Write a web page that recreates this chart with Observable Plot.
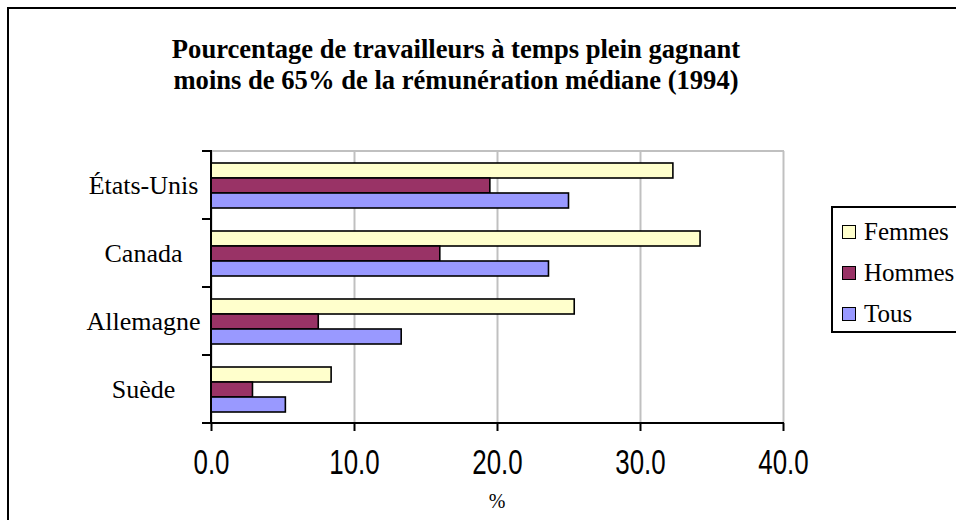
<!DOCTYPE html>
<html><head><meta charset="utf-8">
<script src="https://cdn.jsdelivr.net/npm/d3@7"></script>
<script src="https://cdn.jsdelivr.net/npm/@observablehq/plot@0.6"></script>
<style>
body{margin:0;background:#fff;overflow:hidden}
#wrap{position:relative;width:956px;height:520px;overflow:hidden;background:#fff;font-family:'Liberation Serif','Times New Roman',Times,serif;color:#000}
#border{position:absolute;left:7px;top:7px;width:1000px;height:600px;border:2px solid #000;box-sizing:border-box}
#chart{position:absolute;left:0;top:0}
#title{position:absolute;left:0;width:912px;top:34px;text-align:center;font-family:'Liberation Serif','Times New Roman',Times,serif;font-weight:bold;font-size:26.6px;line-height:31px}
#legend{position:absolute;left:831px;top:206px;width:200px;height:127px;border:2px solid #000;box-sizing:border-box;background:#fff}
.item{position:absolute;left:9px;height:30px;display:flex;align-items:center;font-family:'Liberation Serif','Times New Roman',Times,serif;font-size:25px;white-space:nowrap}
.sw{width:12px;height:12px;border:1.5px solid #000;margin-right:8px;flex:none}
#xlabel{position:absolute;left:447px;width:100px;top:490px;text-align:center;font-family:'Liberation Serif','Times New Roman',Times,serif;font-size:20px}
</style></head>
<body><div id="wrap"><div id="border"></div><div id="chart"></div>
<div id="title">Pourcentage de travailleurs à temps plein gagnant<br>moins de 65% de la rémunération médiane (1994)</div>
<div id="legend"></div><div id="xlabel">%</div></div>
<script>
const countries = ["États-Unis", "Canada", "Allemagne", "Suède"];
const series = ["Femmes", "Hommes", "Tous"];
const femmes = [32.3, 34.2, 25.4, 8.4];
const hommes = [19.5, 16.0, 7.5, 2.9];
const tous = [25.0, 23.6, 13.3, 5.2];
const colors = ["#FFFFCC", "#993366", "#9999FF"];
const xTicks = [0, 10, 20, 30, 40];

const valuesBySeries = [femmes, hommes, tous];
const data = countries.flatMap((c, i) => series.map((s, j) => ({country: c, series: s, value: valuesBySeries[j][i]})));

const chart = Plot.plot({
  width: 956, height: 520,
  marginLeft: 211, marginRight: 173, marginTop: 149, marginBottom: 96,
  style: {background: "transparent", overflow: "visible"},
  x: {domain: [0, 40], axis: null},
  y: {domain: series, paddingInner: 0, paddingOuter: 0.74, axis: null},
  fy: {domain: countries, padding: 0, axis: null},
  color: {domain: series, range: colors},
  marks: [
    Plot.gridX(xTicks, {stroke: "#c0c0c0", strokeOpacity: 1, strokeWidth: 2}),
    Plot.barX(data, {fy: "country", y: "series", x: "value", fill: "series", stroke: "#000", strokeWidth: 1.6}),
    Plot.axisFy({anchor: "left", tickSize: 0, tickPadding: 68, textAnchor: "middle", fontSize: 26, fontFamily: "Liberation Serif, Times New Roman, serif", label: null, fill: "#000"}),
    Plot.axisX(xTicks, {anchor: "bottom", tickSize: 8, tickPadding: 18, strokeWidth: 2, tickFormat: d3.format(".1f"), fontSize: 35, fontFamily: "Liberation Sans, Arial, sans-serif", label: null, fill: "#000"})
  ]
});
document.getElementById("chart").appendChild(chart);

// condensed look of the tick labels (Arial Narrow style)
d3.select(chart).selectAll("text").each(function() {
  const t = d3.select(this);
  const s = t.text();
  if (/^\d+\.\d$/.test(s)) {
    const tr = t.attr("transform") || "";
    t.attr("transform", tr + " scale(0.74,1)");
    if (t.attr("x") != null) t.attr("x", +t.attr("x") / 0.74);
  }
});

// axis lines & category boundary ticks from the library's scales
const fy = chart.scale("fy"), x = chart.scale("x");
const starts = countries.map(c => fy.apply(c));
const bottom = starts[starts.length - 1] + fy.bandwidth;
const x0 = x.apply(0), x1 = x.apply(40);
const svg = d3.select(chart);
const g = svg.append("g").attr("stroke-linecap", "square");
g.append("line").attr("x1", x0).attr("x2", x1).attr("y1", starts[0]).attr("y2", starts[0]).attr("stroke", "#c0c0c0").attr("stroke-width", 2);
g.append("line").attr("x1", x0).attr("x2", x0).attr("y1", starts[0]).attr("y2", bottom).attr("stroke", "#000").attr("stroke-width", 2);
g.append("line").attr("x1", x0 - 8).attr("x2", x1).attr("y1", bottom).attr("y2", bottom).attr("stroke", "#000").attr("stroke-width", 2);
[...starts, bottom].forEach(y => g.append("line").attr("x1", x0 - 8).attr("x2", x0).attr("y1", y).attr("y2", y).attr("stroke", "#000").attr("stroke-width", 2));

// legend
const legend = document.getElementById("legend");
series.forEach((s, i) => {
  const it = document.createElement("div");
  it.className = "item";
  it.style.top = (9 + i * 41) + "px";
  const sw = document.createElement("span");
  sw.className = "sw"; sw.style.background = colors[i];
  it.appendChild(sw);
  it.appendChild(document.createTextNode(s));
  legend.appendChild(it);
});
</script></body></html>
